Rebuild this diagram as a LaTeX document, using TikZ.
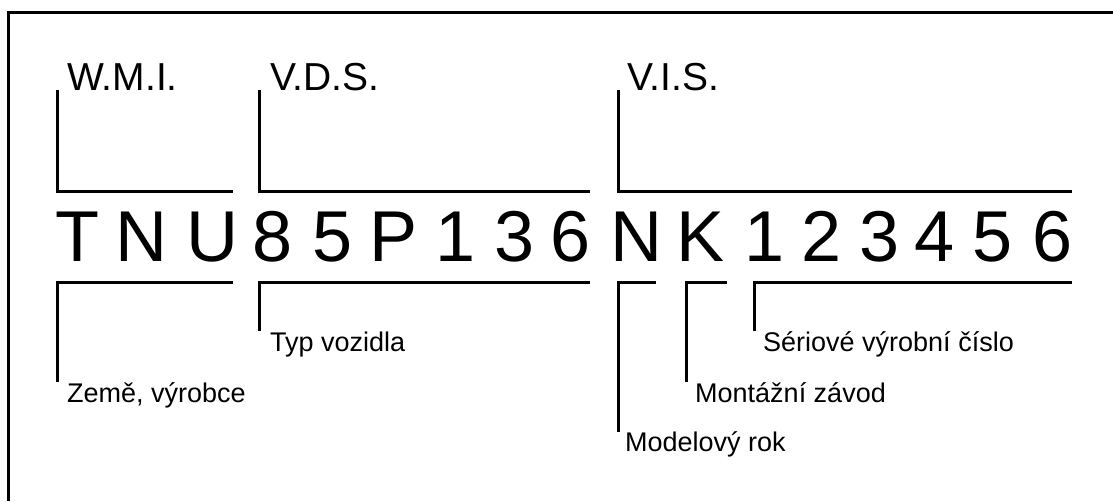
\documentclass[tikz,border=0pt]{standalone}
\usepackage{fontspec}
\setmainfont{Liberation Sans}
\begin{document}
\begin{tikzpicture}[x=1pt,y=-1pt,
  br/.style={line width=3pt},
  frm/.style={line width=3pt},
  big/.style={anchor=base,inner sep=0pt,font=\fontsize{72}{80}\selectfont},
  toplab/.style={anchor=base west,inner sep=0pt,font=\fontsize{39}{44}\selectfont},
  botlab/.style={anchor=base west,inner sep=0pt,font=\fontsize{27}{32}\selectfont}]
\useasboundingbox (0,0) rectangle (1113,501);
% frame (only top and left visible)
\coordinate (fbl) at (8,501);
\coordinate (ftl) at (8,12);
\coordinate (ftr) at (1113,12);
\draw[frm] (fbl) -- (ftl) -- (ftr);
% characters
\foreach \ch/\cx [count=\i] in {T/77.5,N/141,U/212,8/272.5,5/332.5,P/394,1/456,3/514.5,6/570.5,N/636,K/701,1/765,2/821.5,3/880,4/935,5/993,6/1052.5}
  \node[big] (c\i) at (\cx,261) {\ch};
% top labels
\node[toplab] (wmi) at (67,90) {W.M.I.};
\node[toplab] (vds) at (270,90) {V.D.S.};
\node[toplab] (vis) at (627,90) {V.I.S.};
% bottom labels
\node[botlab] (zeme) at (67,402) {Země, výrobce};
\node[botlab] (typ) at (270,351) {Typ vozidla};
\node[botlab] (model) at (625,451) {Modelový rok};
\node[botlab] (mont) at (695,402) {Montážní závod};
\node[botlab] (ser) at (763,351) {Sériové výrobní číslo};
% top brackets
\coordinate (wa) at (57,90);  \coordinate (wb) at (57,191);  \coordinate (wc) at (233,191);
\coordinate (da) at (259,90); \coordinate (db) at (259,191); \coordinate (dc) at (590,191);
\coordinate (ia) at (618,90); \coordinate (ib) at (618,191); \coordinate (ic) at (1072,191);
\draw[br] (wa) -- (wb) -- (wc);
\draw[br] (da) -- (db) -- (dc);
\draw[br] (ia) -- (ib) -- (ic);
% bottom brackets
\coordinate (za) at (233,282); \coordinate (zb) at (57,282);  \coordinate (zc) at (57,382);
\coordinate (ta) at (590,282); \coordinate (tb) at (259,282); \coordinate (tc) at (259,331);
\coordinate (ma) at (656,282); \coordinate (mb) at (618,282); \coordinate (mc) at (618,432);
\coordinate (na) at (727,282); \coordinate (nb) at (686,282); \coordinate (nc) at (686,382);
\coordinate (sa) at (1072,282); \coordinate (sb) at (754,282); \coordinate (sc) at (754,331);
\draw[br] (za) -- (zb) -- (zc);
\draw[br] (ta) -- (tb) -- (tc);
\draw[br] (ma) -- (mb) -- (mc);
\draw[br] (na) -- (nb) -- (nc);
\draw[br] (sa) -- (sb) -- (sc);
\end{tikzpicture}
\end{document}
